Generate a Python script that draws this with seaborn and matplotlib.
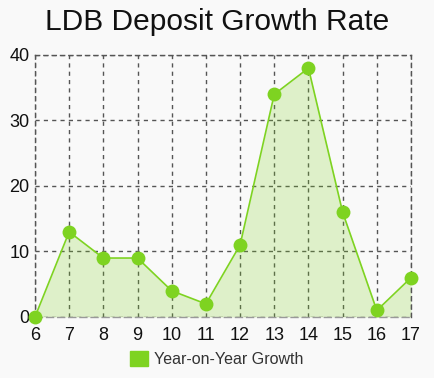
import matplotlib
matplotlib.use("Agg")
import matplotlib.pyplot as plt
import seaborn as sns
import pandas as pd
from matplotlib.patches import Patch

months = [6, 7, 8, 9, 10, 11, 12, 13, 14, 15, 16, 17]
growth = [0, 13, 9, 9, 4, 2, 11, 34, 38, 16, 1, 6]
yticks = [0, 10, 20, 30, 40]
series_name = "Year-on-Year Growth"
title = "LDB Deposit Growth Rate"

df = pd.DataFrame({"month": months, "growth": growth})

sns.set_theme(style="white")
plt.rcParams['font.family'] = ['Liberation Sans', 'DejaVu Sans']

bg = "#f9f9f9"
green = "#7ed321"
fig = plt.figure(figsize=(4.34, 3.78), dpi=100, facecolor=bg)
ax = fig.add_axes([0.0806, 0.1614, 0.947 - 0.0806, 0.8545 - 0.1614])
ax.set_facecolor(bg)

ax.fill_between(df["month"], df["growth"], 0, color=green, alpha=0.22, linewidth=0, zorder=1)
sns.lineplot(data=df, x="month", y="growth", ax=ax, color=green, linewidth=1.2,
             marker="o", markersize=10, markeredgewidth=0, zorder=3, clip_on=False)

ax.set_xlim(6, 17)
ax.set_ylim(0, 40)
ax.set_xticks(months)
ax.set_yticks(yticks)
ax.set_xlabel("")
ax.set_ylabel("")
ax.grid(True, color="#555555", linestyle=(0, (3, 3)), linewidth=1.0, zorder=0)
ax.set_axisbelow(True)
for s in ax.spines.values():
    s.set_color("#555555")
    s.set_linestyle((0, (3, 3)))
    s.set_linewidth(1.0)
ax.spines["bottom"].set_color("#999999")
ax.spines["bottom"].set_linestyle((0, (5, 3)))
ax.tick_params(axis="both", length=0, labelsize=13, colors="#111111")
ax.tick_params(axis="y", pad=4)
ax.tick_params(axis="x", pad=7)

fig.suptitle(title, x=0.5, y=0.978, fontsize=21.5, color="#111111", va="top")

handle = Patch(facecolor=green, edgecolor=green)
fig.legend([handle], [series_name], loc="lower center", bbox_to_anchor=(0.5, -0.008),
           frameon=False, fontsize=11.5, handlelength=1.1, handleheight=1.1,
           handletextpad=0.4, labelcolor="#333333")

fig.savefig("out.png", dpi=100, facecolor=bg)
